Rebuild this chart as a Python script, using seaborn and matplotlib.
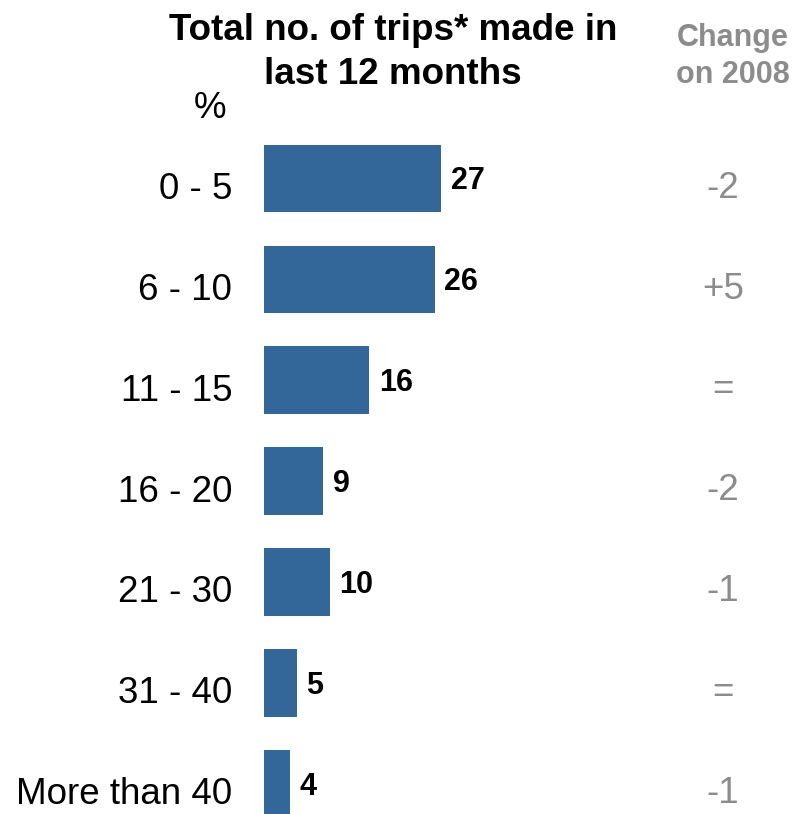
import matplotlib
matplotlib.use("Agg")
import matplotlib.pyplot as plt
import matplotlib.transforms as mtransforms
import pandas as pd
import seaborn as sns

categories = ["0 - 5", "6 - 10", "11 - 15", "16 - 20", "21 - 30", "31 - 40", "More than 40"]
share = [27, 26, 16, 9, 10, 5, 4]
change = ["-2", "+5", "=", "-2", "-1", "=", "-1"]

df = pd.DataFrame({"trips": categories, "share": share})

sns.set_theme(style="white")
plt.rcParams["font.family"] = ["Liberation Sans", "DejaVu Sans"]

W, H = 796, 814
fig = plt.figure(figsize=(W / 100, H / 100), dpi=100)
ax = fig.add_axes([264 / W, 0, (W - 264) / W, 684 / H])

sns.barplot(data=df, x="share", y="trips", color="#336699", saturation=1,
            width=0.67, linewidth=0, ax=ax, orient="h")

ax.set_xlim(0, (W - 264) / 6.56)
ax.set_ylim(6.30, -0.48)
ax.set_xlabel("")
ax.set_ylabel("")
ax.set_xticks([])
ax.tick_params(axis="y", length=0, pad=23, labelsize=26.5, labelcolor="black")
sns.despine(ax=ax, left=True, bottom=True)

# category labels sit a little below the bar centre in the original
shift = mtransforms.ScaledTranslation(0, -7 / 100, fig.dpi_scale_trans)
for lab in ax.get_yticklabels():
    lab.set_transform(lab.get_transform() + shift)

for i, v in enumerate(share):
    ax.annotate(str(v), (v, i), xytext=(7, -2), textcoords="offset points",
                ha="left", va="center", fontsize=22, fontweight="bold", color="black")

grey = "#8c8c8c"
for i, c in enumerate(change):
    ax.annotate(c, ((723 - 264) / (W - 264), i), xycoords=("axes fraction", "data"),
                xytext=(0, -7), textcoords="offset points",
                ha="center", va="center", fontsize=26.5, color=grey)

fig.text(393 / W, 1 - 30 / H, "Total no. of trips* made in", ha="center", va="center",
         fontsize=26.5, fontweight="bold", color="black")
fig.text(393 / W, 1 - 74 / H, "last 12 months", ha="center", va="center",
         fontsize=26.5, fontweight="bold", color="black")
fig.text(210 / W, 1 - 108 / H, "%", ha="center", va="center", fontsize=26.5, color="black")
fig.text(733 / W, 1 - 38 / H, "Change", ha="center", va="center",
         fontsize=22, fontweight="bold", color=grey)
fig.text(733 / W, 1 - 75 / H, "on 2008", ha="center", va="center",
         fontsize=22, fontweight="bold", color=grey)

fig.savefig("out.png", dpi=100)
